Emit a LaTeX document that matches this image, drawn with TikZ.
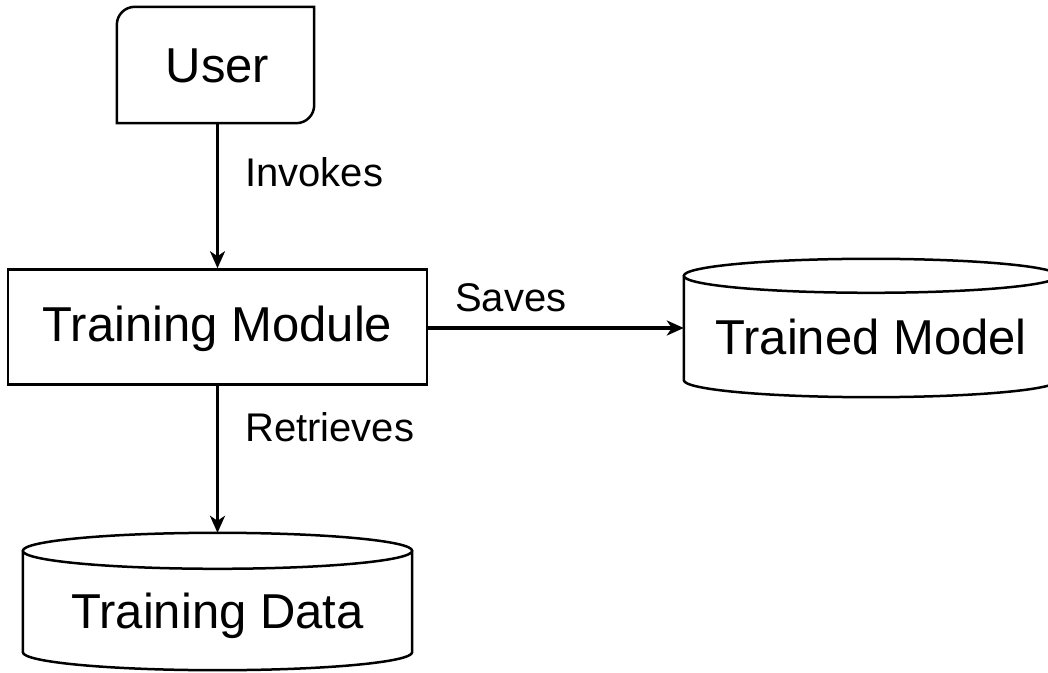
\documentclass[tikz,border=0pt]{standalone}
\usepackage{fontspec}
\setmainfont{Liberation Sans}
\usetikzlibrary{arrows.meta,calc}

% drum (cylinder) outline around an invisible node: #1 node name, #2 cap radius
\newcommand\drawdrum[2]{%
  \draw[outline] let \p1=(#1.north west), \p2=(#1.south east), \n1={(\x2-\x1)/2} in
    (\x1,\y1-#2) -- (\x1,\y2+#2)
    arc[start angle=180,end angle=360,x radius=\n1,y radius=#2]
    -- (\x2,\y1-#2)
    (\x1+\n1,\y1-#2) ellipse[x radius=\n1,y radius=#2];}

\begin{document}
\begin{tikzpicture}[x=1pt,y=1pt,
  outline/.style={line width=2.5pt, draw=black},
  frame/.style={outline, rectangle, inner sep=0pt},
  holder/.style={rectangle, inner sep=0pt, draw=none},
  caption/.style={font=\fontsize{49}{58}\selectfont, anchor=base, inner sep=0pt},
  tag/.style={font=\fontsize{40}{48}\selectfont, anchor=base west, inner sep=0pt},
  conn/.style={line width=3.4pt, -{Stealth[length=17pt,width=15pt,inset=5pt]}},
]
\useasboundingbox (0,0) rectangle (1048,672);
\fill[white] (0,0) rectangle (1048,672);

% User: box with rounded top-left and bottom-right corners
\node[holder, minimum width=197pt, minimum height=116pt] (user) at (215.5,607) {};
\draw[outline] (user.south west) -- ([yshift=-18pt]user.north west)
  arc[start angle=180,end angle=90,radius=18pt] -- (user.north east)
  -- ([yshift=18pt]user.south east)
  arc[start angle=0,end angle=-90,radius=18pt] -- cycle;

% Training Module
\node[frame, minimum width=419pt, minimum height=115pt] (tm) at (217.5,345) {};

% data stores
\node[holder, minimum width=374pt, minimum height=138pt] (model) at (871,344) {};
\drawdrum{model}{17pt}
\node[holder, minimum width=389pt, minimum height=137pt] (data) at (217.5,70.5) {};
\drawdrum{data}{18pt}

% captions
\node[caption] (usertext) at (217.5,589) {User};
\node[caption] (tmtext) at (217.5,330) {Training Module};
\node[caption] (modeltext) at (871,317) {Trained Model};
\node[caption] (datatext) at (217.5,44) {Training Data};

% connectors
\draw[conn] (tm.north |- user.south) -- (tm.north);
\draw[conn] (model.west -| tm.east) -- (model.west);
\draw[conn] (tm.south) -- (data.north);

% connector labels
\node[tag] (invokes) at (245,485) {Invokes};
\node[tag] (saves) at (455,360) {Saves};
\node[tag] (retrieves) at (245,230) {Retrieves};
\end{tikzpicture}
\end{document}
